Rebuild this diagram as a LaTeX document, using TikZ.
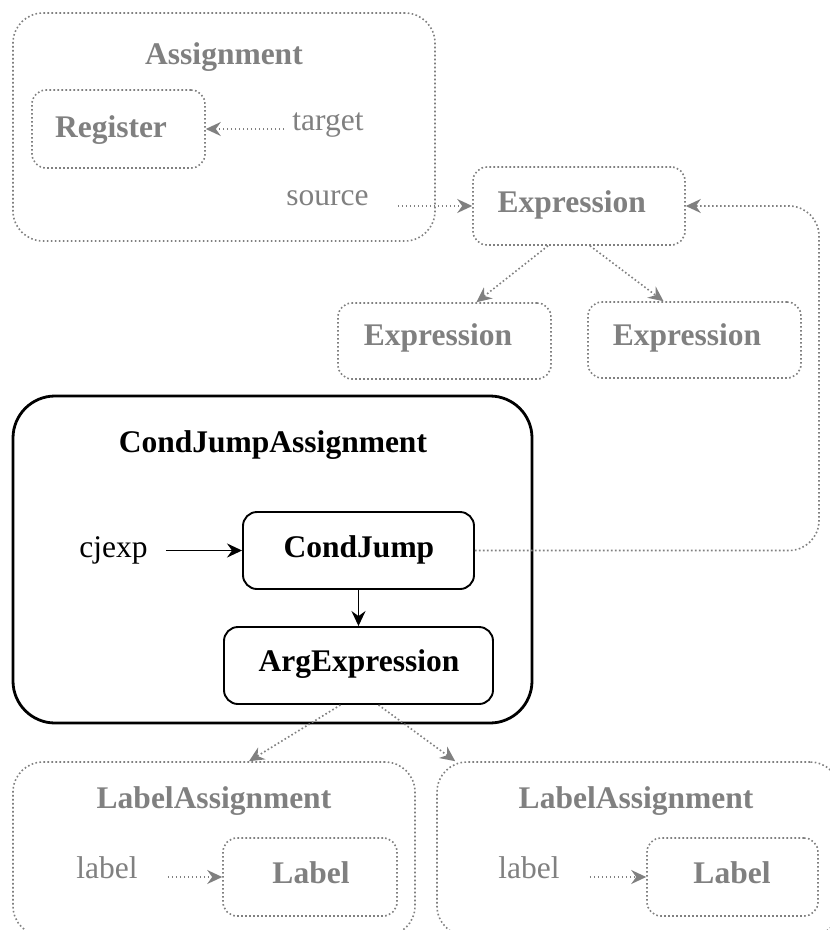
\documentclass[tikz,border=0pt]{standalone}
\usepackage{fontspec}
\setmainfont{Liberation Serif}
\usetikzlibrary{arrows.meta}
\definecolor{ghost}{RGB}{128,128,128}
\newcommand\diagfont{\fontsize{31.5}{38}\selectfont}
\tikzset{
  dots/.style={draw=ghost, line width=1.6pt, dash pattern=on 1.6pt off 2.4pt},
  ghostframe/.style={dots, rounded corners=30pt, inner sep=0pt},
  ghostbox/.style={dots, rounded corners=14pt, inner sep=0pt},
  solidframe/.style={draw=black, line width=2.8pt, rounded corners=42pt, inner sep=0pt},
  solidbox/.style={draw=black, line width=1.9pt, rounded corners=14pt, inner sep=0pt},
  ghosttitle/.style={anchor=base, inner sep=0pt, text=ghost, font=\diagfont\bfseries},
  ghostword/.style={anchor=base, inner sep=0pt, text=ghost, font=\diagfont},
  title/.style={anchor=base, inner sep=0pt, text=black, font=\diagfont\bfseries},
  word/.style={anchor=base, inner sep=0pt, text=black, font=\diagfont},
  ghostlink/.style={dots, -{Stealth[length=15pt,width=14pt,inset=5pt]}},
  link/.style={draw=black, line width=1.9pt, -{Stealth[length=15pt,width=14pt,inset=5pt]}},
}
\begin{document}
\begin{tikzpicture}[x=1pt,y=-1pt]
  \path[use as bounding box] (0,0) rectangle (830,930);
  \fill[white] (0,0) rectangle (830,930);
  \clip (0,0) rectangle (830,930);

  % Assignment
  \node[ghostframe, minimum width=422pt, minimum height=228pt] (asg) at (224,127) {};
  \node[ghosttitle] (asgtitle) at (224,64) {Assignment};
  \node[ghostbox, minimum width=173pt, minimum height=78pt] (reg) at (118.5,129) {};
  \node[ghosttitle] (regtext) at (111,137) {Register};
  \node[ghostword] (target) at (328,130) {target};
  \node[ghostword] (source) at (327.5,205) {source};

  % Expression tree
  \node[ghostbox, minimum width=212pt, minimum height=78pt] (expr) at (579,206) {};
  \node[ghosttitle] (exprtext) at (571.7,212) {Expression};
  \node[ghostbox, minimum width=213pt, minimum height=76pt] (exprL) at (444.5,341) {};
  \node[ghosttitle] (exprLtext) at (438,345) {Expression};
  \node[ghostbox, minimum width=213pt, minimum height=76pt] (exprR) at (694.5,340) {};
  \node[ghosttitle] (exprRtext) at (687,345) {Expression};

  % CondJumpAssignment
  \node[solidframe, minimum width=519pt, minimum height=327pt] (cja) at (272.5,559.5) {};
  \node[title] (cjatitle) at (273,452) {CondJumpAssignment};
  \node[word] (cjexp) at (113.5,557) {cjexp};
  \node[solidbox, minimum width=231pt, minimum height=77pt] (cj) at (358.5,550.5) {};
  \node[title] (cjtext) at (359,557) {CondJump};
  \node[solidbox, minimum width=269pt, minimum height=77pt] (arg) at (358.5,665.5) {};
  \node[title] (argtext) at (359,671) {ArgExpression};

  % LabelAssignments
  \node[ghostframe, minimum width=402pt, minimum height=174pt] (laL) at (214,849) {};
  \node[ghosttitle] (laLtitle) at (214,808) {LabelAssignment};
  \node[ghostword] (labelL) at (107,878) {label};
  \node[ghostbox, minimum width=174pt, minimum height=78pt] (lbL) at (310,877) {};
  \node[ghosttitle] (lbLtext) at (311,883) {Label};

  \node[ghostframe, minimum width=403pt, minimum height=174pt] (laR) at (638.5,849) {};
  \node[ghosttitle] (laRtitle) at (636,808) {LabelAssignment};
  \node[ghostword] (labelR) at (529,878) {label};
  \node[ghostbox, minimum width=171pt, minimum height=78pt] (lbR) at (732.5,877) {};
  \node[ghosttitle] (lbRtext) at (732,883) {Label};

  \coordinate (bend) at (819,206);

  % connectors
  \draw[ghostlink, shorten <=8pt] (reg.east -| target.west) -- (reg.east);
  \draw[ghostlink, shorten <=29pt] (expr.west -| source.east) -- (expr.west);
  \draw[ghostlink] ([xshift=-31pt]expr.south) -- ([xshift=32pt]exprL.north);
  \draw[ghostlink] ([xshift=11pt]expr.south) -- ([xshift=-31pt]exprR.north);
  \draw[link, shorten <=18pt] (cj.west -| cjexp.east) -- (cj.west);
  \draw[link] (cj.south) -- (arg.north);
  \draw[ghostlink, rounded corners=30pt] (cj.east) -| (bend) -- (expr.east);
  \draw[ghostlink] ([xshift=-18pt]arg.south) -- ([xshift=35pt]laL.north);
  \draw[ghostlink] ([xshift=20pt]arg.south) -- ([xshift=19pt]laR.north west);
  \draw[ghostlink, shorten <=30pt] (lbL.west -| labelL.east) -- (lbL.west);
  \draw[ghostlink, shorten <=30pt] (lbR.west -| labelR.east) -- (lbR.west);
\end{tikzpicture}
\end{document}
